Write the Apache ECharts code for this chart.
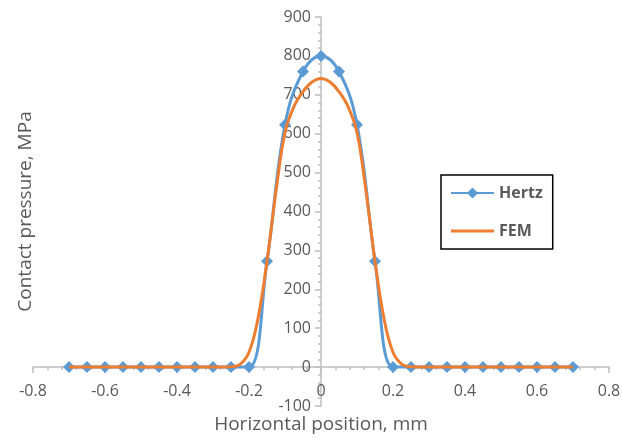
<!DOCTYPE html>
<html>
<head>
<meta charset="utf-8">
<script src="https://cdn.jsdelivr.net/npm/echarts@6/dist/echarts.min.js"></script>
<style>
html,body{margin:0;padding:0;background:#fff;}
#c{width:622px;height:439px;}
</style>
</head>
<body>
<div id="c"></div>
<script>
// Hertz series (markers every 0.05 mm)
var hertzX = [-0.7,-0.65,-0.6,-0.55,-0.5,-0.45,-0.4,-0.35,-0.3,-0.25,-0.2,-0.15,-0.1,-0.05,0,0.05,0.1,0.15,0.2,0.25,0.3,0.35,0.4,0.45,0.5,0.55,0.6,0.65,0.7];
var hertzY = [0,0,0,0,0,0,0,0,0,0,0,272,623,760,800,760,623,272,0,0,0,0,0,0,0,0,0,0,0];
// FEM series
var femX = [-0.7,-0.3,-0.275,-0.25,-0.225,-0.2,-0.175,-0.15,-0.125,-0.1,-0.075,-0.05,-0.025,0,0.025,0.05,0.075,0.1,0.125,0.15,0.175,0.2,0.225,0.25,0.275,0.3,0.7];
var femY = [0,0,0,1,7,38,125,272,452,603,670,708,733,742,733,708,670,603,452,272,125,38,7,1,0,0,0];
// axis settings
var xTicks = {min:-0.8, max:0.8, interval:0.2};
var yTicks = {min:-100, max:900, interval:100};
var xTitle = 'Horizontal position, mm';
var yTitle = 'Contact pressure, MPa';

function pairs(xs, ys){ return xs.map(function(x,i){ return [x, ys[i]]; }); }

var GRID = {left:33, right:13, top:17, bottom:33};
var W = 622, H = 439;
var plotW = W - GRID.left - GRID.right, plotH = H - GRID.top - GRID.bottom;
// move axes to cross at the origin (value 0 of the other axis)
var xAxisOffset = -plotH * (0 - yTicks.min) / (yTicks.max - yTicks.min);
var yAxisOffset = -plotW * (0 - xTicks.min) / (xTicks.max - xTicks.min);

var FONT = '"Open Sans", "Liberation Sans", sans-serif';
var AX = '#bfbfbf';
var chart = echarts.init(document.getElementById('c'), null, {renderer:'canvas'});
chart.setOption({
  animation:false,
  backgroundColor:'#fff',
  grid:{left:GRID.left, right:GRID.right, top:GRID.top, bottom:GRID.bottom, containLabel:false, outerBoundsMode:'none'},
  legend:{
    orient:'vertical', left:441, top:175,
    data:[
      {name:'Hertz'},
      {name:'FEM', icon:'path://M0,0L0.001,0M0,5.5L43,5.5L43,8.5L0,8.5ZM43,14L42.999,14', itemStyle:{borderWidth:0}}
    ],
    borderColor:'#000', borderWidth:1.5,
    padding:[10,10,10,9],
    itemWidth:43, itemHeight:14, itemGap:22,
    textStyle:{fontFamily:FONT, fontSize:16, fontWeight:'bold', color:'#595959'}
  },
  xAxis:{
    type:'value', min:xTicks.min, max:xTicks.max, interval:xTicks.interval,
    position:'bottom', offset:xAxisOffset,
    name:xTitle, nameLocation:'middle', nameGap:48, nameMoveOverlap:false,
    nameTextStyle:{fontFamily:FONT, fontSize:19, color:'#595959'},
    axisLine:{onZero:false, lineStyle:{color:AX, width:1.5}},
    axisTick:{show:true, inside:false, length:6, lineStyle:{color:AX, width:1.5}},
    minorTick:{show:true, splitNumber:5, length:3, lineStyle:{color:AX, width:1.5}},
    splitLine:{show:false},
    axisLabel:{fontFamily:FONT, fontSize:16, color:'#595959', margin:16,
      formatter:function(v){ return String(Math.round(v*10)/10); }}
  },
  yAxis:{
    type:'value', min:yTicks.min, max:yTicks.max, interval:yTicks.interval,
    position:'left', offset:yAxisOffset,
    name:yTitle, nameLocation:'middle', nameGap:286, nameMoveOverlap:false,
    nameTextStyle:{fontFamily:FONT, fontSize:19, color:'#595959'},
    axisLine:{show:true, onZero:false, lineStyle:{color:AX, width:1.5}},
    axisTick:{show:true, inside:false, length:6, lineStyle:{color:AX, width:1.5}},
    minorTick:{show:true, splitNumber:5, length:3, lineStyle:{color:AX, width:1.5}},
    splitLine:{show:false},
    axisLabel:{fontFamily:FONT, fontSize:16, color:'#595959', margin:10}
  },
  series:[
    {
      name:'Hertz', type:'line', data:pairs(hertzX, hertzY),
      smooth:0.4, symbol:'diamond', symbolSize:12,
      itemStyle:{color:'#5B9BD5'},
      lineStyle:{color:'#5B9BD5', width:3},
      z:2
    },
    {
      name:'FEM', type:'line', data:pairs(femX, femY),
      smooth:0.4, symbol:'none',
      itemStyle:{color:'#ED7D31'},
      lineStyle:{color:'#ED7D31', width:3},
      z:3
    }
  ]
});
</script>
</body>
</html>
